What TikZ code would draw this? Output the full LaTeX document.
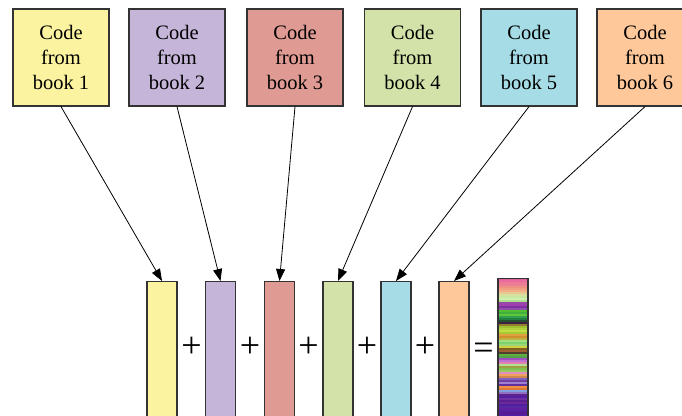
\documentclass[tikz,border=0pt]{standalone}
\usepackage{fontspec}
\setmainfont{Liberation Serif}
\usetikzlibrary{arrows.meta}
\definecolor{cyel}{HTML}{FCF3A0}
\definecolor{cpur}{HTML}{C5B5D8}
\definecolor{cred}{HTML}{E09A94}
\definecolor{cgrn}{HTML}{D2E2A8}
\definecolor{ccya}{HTML}{A6DCE6}
\definecolor{cora}{HTML}{FEC89A}
\definecolor{cedge}{HTML}{333333}
\tikzset{
  bookbox/.style={draw=cedge, line width=1.2pt, minimum width=96pt, minimum height=97pt,
    inner sep=0pt, align=center, font=\fontsize{20.5}{25}\selectfont},
  codebar/.style={draw=cedge, line width=1.2pt, minimum width=30pt, minimum height=140pt,
    inner sep=0pt, anchor=north},
  opsign/.style={inner sep=0pt, font=\fontsize{36}{36}\selectfont},
  link/.style={line width=0.8pt, -{Triangle[length=12pt,width=9pt]}}
}
\begin{document}
\begin{tikzpicture}[x=1pt,y=-1pt]
\useasboundingbox (0,0) rectangle (682,415);
\begin{scope}
\clip (0,0) rectangle (682,415);
\node[bookbox, fill=cyel] (b1) at (61,57.5) {Code\\from\\book 1};
\node[bookbox, fill=cpur] (b2) at (177,57.5) {Code\\from\\book 2};
\node[bookbox, fill=cred] (b3) at (295,57.5) {Code\\from\\book 3};
\node[bookbox, fill=cgrn] (b4) at (412.5,57.5) {Code\\from\\book 4};
\node[bookbox, fill=ccya] (b5) at (529,57.5) {Code\\from\\book 5};
\node[bookbox, fill=cora] (b6) at (645,57.5) {Code\\from\\book 6};

\node[codebar, fill=cyel] (c1) at (162,281) {};
\node[codebar, fill=cpur] (c2) at (220.5,281) {};
\node[codebar, fill=cred] (c3) at (279.5,281) {};
\node[codebar, fill=cgrn] (c4) at (338,281) {};
\node[codebar, fill=ccya] (c5) at (396,281) {};
\node[codebar, fill=cora] (c6) at (454,281) {};

\foreach \c [count=\i from 0] in {E0609A,E86CA0,F07890,E88098,F09080,F0A080,F0B088,E8C890,D8E0A0,C8E8A0,D0F0B0,B0E090,9848A8,A040B0,8030A0,9050B0,50C030,40B040,60C838,30A050,208040,205030,402040,908030,A0C030,B0D040,C0E040,A8C838,E0A040,D09030,C0B040,A0E080,80D070,98D878,D0D040,806020,A06030,504030,60B040,50A050,A050C0,C070D0,E080B0,B0E090,A0A040,80C050,98C860,E090C0,F0A060,D08850,8060C0,7040A0,A080D0,6030A0,F09040,E07838,80A0E0,9070C0,602090,5020A0,7030A0,5A2090,6A2898,5020A0,5828A0,6020A0,5020A0,5A1890,5020A0}
  {\edef\tmp{\noexpand\definecolor{stripe}{HTML}{\c}}\tmp
   \fill[stripe] (498,278+2*\i) rectangle (528,280.2+2*\i);}
\node[draw=cedge, line width=1.2pt, minimum width=30pt, minimum height=145pt, inner sep=0pt, anchor=north] (cm) at (513,278) {};

\node[opsign] (p1) at (191.5,347) {+};
\node[opsign] (p2) at (250,347) {+};
\node[opsign] (p3) at (308.5,347) {+};
\node[opsign] (p4) at (367,347) {+};
\node[opsign] (p5) at (425,347) {+};
\node[opsign] (eq) at (483.5,351) {=};

\draw[link] (b1.south) -- (c1.north);
\draw[link] (b2.south) -- (c2.north);
\draw[link] (b3.south) -- (c3.north);
\draw[link] (b4.south) -- (c4.north);
\draw[link] (b5.south) -- (c5.north);
\draw[link] (b6.south) -- (c6.north);
\end{scope}
\end{tikzpicture}
\end{document}
